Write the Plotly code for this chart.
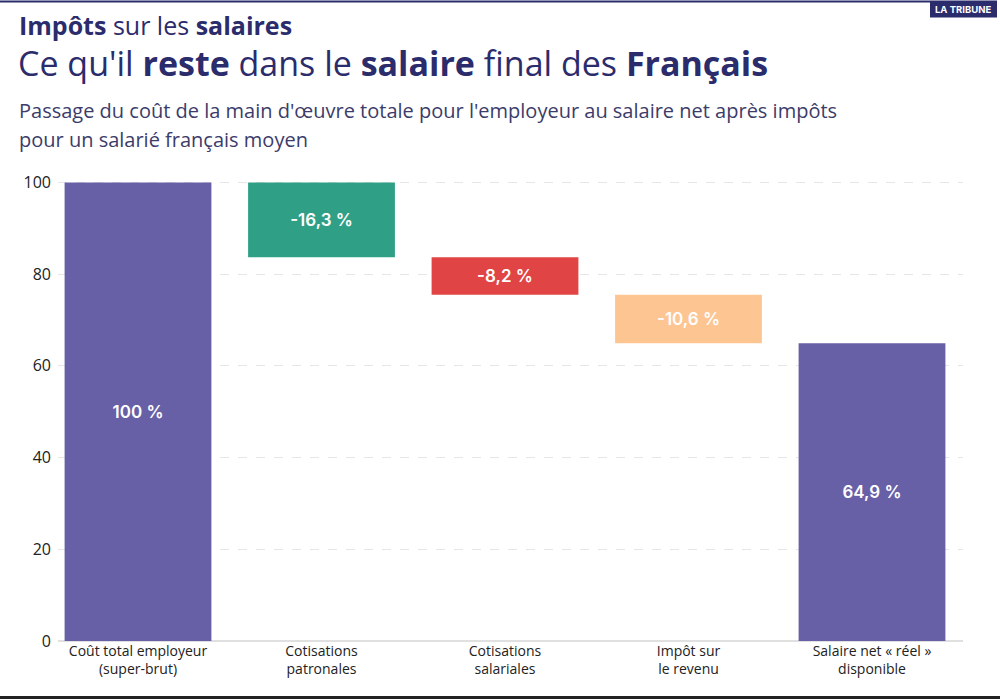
import plotly.graph_objects as go

categories = ["Coût total employeur<br>(super-brut)", "Cotisations<br>patronales",
              "Cotisations<br>salariales", "Impôt sur<br>le revenu",
              "Salaire net « réel »<br>disponible"]
values = [100, -16.3, -8.2, -10.6, 64.9]
kinds = ["total", "delta", "delta", "delta", "total"]
labels = ["100 %", "-16,3 %", "-8,2 %", "-10,6 %", "64,9 %"]
colors = ["#6860a6", "#2fa085", "#e04444", "#fdc592", "#6860a6"]
y_ticks = [0, 20, 40, 60, 80, 100]

# compute bases / heights from data
bases, heights = [], []
level = 0
for v, k in zip(values, kinds):
    if k == "total":
        bases.append(0)
        heights.append(v)
        level = v
    else:
        new = level + v
        bases.append(new)
        heights.append(-v)
        level = new

W, H = 1000, 700
L, R, T, B = 58, 963, 180.6, 641
xs = list(range(len(categories)))

def px(x):
    return (x - L) / (R - L)

def py(y):
    return (B - y) / (B - T)

fig = go.Figure()
fig.add_trace(go.Bar(
    x=xs, y=heights, base=bases, width=0.8,
    marker=dict(color=colors, line=dict(width=0)),
    text=labels, textposition="inside", insidetextanchor="middle",
    textangle=0,
    textfont=dict(family="Inter", size=17, color="white", weight=600),
    hoverinfo="skip",
))

navy = "#2b2c6c"
sub_color = "#3c3c6a"
annotations = [
    dict(text="<b>Impôts</b> sur les <b>salaires</b>", x=px(17), y=py(24),
         xref="paper", yref="paper", xanchor="left", yanchor="middle",
         showarrow=False, font=dict(family="Open Sans", size=25, color=navy)),
    dict(text="Ce qu'il <b>reste</b> dans le <b>salaire</b> final des <b>Français</b>",
         x=px(16), y=py(62), xref="paper", yref="paper", xanchor="left", yanchor="middle",
         showarrow=False, font=dict(family="Open Sans", size=34, color=navy)),
    dict(text="Passage du coût de la main d'œuvre totale pour l'employeur au salaire net après impôts",
         x=px(17), y=py(110), xref="paper", yref="paper", xanchor="left", yanchor="middle",
         align="left", showarrow=False,
         font=dict(family="Open Sans", size=20, color=sub_color)),
    dict(text="pour un salarié français moyen",
         x=px(17), y=py(139), xref="paper", yref="paper", xanchor="left", yanchor="middle",
         align="left", showarrow=False,
         font=dict(family="Open Sans", size=20, color=sub_color)),
    dict(text="<b>LA TRIBUNE</b>", x=px(963.5), y=py(8.5), xref="paper", yref="paper",
         xanchor="center", yanchor="middle", showarrow=False,
         font=dict(family="Inter", size=9.5, color="white")),
]

shapes = [
    dict(type="rect", xref="paper", yref="paper", x0=px(0), x1=px(930), y0=py(0), y1=py(2),
         fillcolor=navy, line=dict(width=0), layer="above"),
    dict(type="rect", xref="paper", yref="paper", x0=px(930), x1=px(997), y0=py(0), y1=py(17),
         fillcolor=navy, line=dict(width=0), layer="above"),
    dict(type="rect", xref="paper", yref="paper", x0=px(0), x1=px(1000), y0=py(696), y1=py(699),
         fillcolor="#222222", line=dict(width=0), layer="above"),
]

fig.update_layout(
    width=W, height=H,
    margin=dict(l=L, r=W - R, t=T, b=H - B, pad=0),
    paper_bgcolor="white", plot_bgcolor="white",
    showlegend=False, bargap=0.2,
    annotations=annotations, shapes=shapes,
    xaxis=dict(range=[(L - 138) / 183.5, (R - 138) / 183.5],
               tickmode="array", tickvals=xs, ticktext=categories,
               showgrid=False, zeroline=False, showline=False, ticks="",
               tickfont=dict(family="Open Sans", size=14, color="#222222"),
               fixedrange=True),
    yaxis=dict(range=[0, 100.3], tickmode="array", tickvals=y_ticks,
               showgrid=True, gridcolor="#e6e6e6", griddash="dash", gridwidth=1,
               zeroline=True, zerolinecolor="#e0e0e0", zerolinewidth=2,
               showline=False, ticks="",
               tickfont=dict(family="Open Sans", size=16, color="#222222"),
               ticklabelstandoff=6, fixedrange=True),
    uniformtext=dict(mode="show", minsize=8),
)

fig.write_html("out.html")
